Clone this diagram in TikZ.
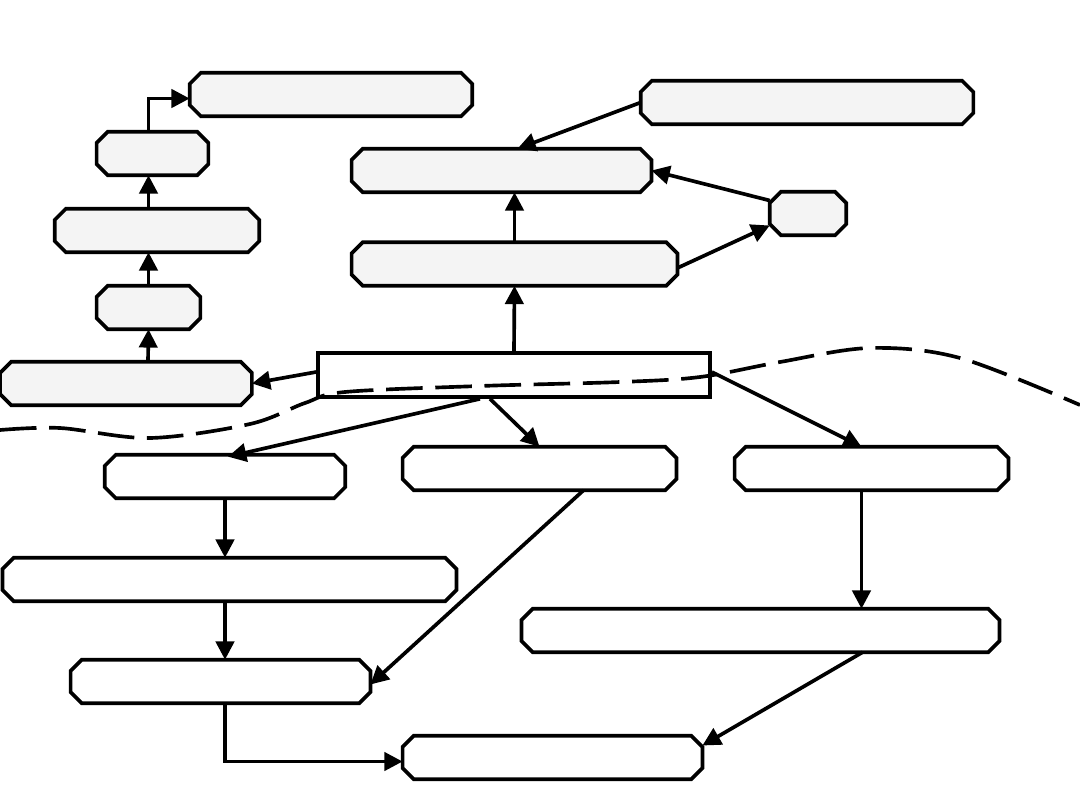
\documentclass[tikz,border=0pt]{standalone}
\usetikzlibrary{arrows.meta,calc}
\definecolor{boxgray}{HTML}{F4F4F4}
\tikzset{
  box/.style={rectangle, inner sep=0pt, minimum height=1.075cm,
    append after command={\pgfextra{
      \draw[line width=2.6pt, fill=#1]
        ($(\tikzlastnode.north west)+(8pt,0)$) -- ($(\tikzlastnode.north east)+(-8pt,0)$)
        -- ($(\tikzlastnode.north east)+(0,-8pt)$) -- ($(\tikzlastnode.south east)+(0,8pt)$)
        -- ($(\tikzlastnode.south east)+(-8pt,0)$) -- ($(\tikzlastnode.south west)+(8pt,0)$)
        -- ($(\tikzlastnode.south west)+(0,8pt)$) -- ($(\tikzlastnode.north west)+(0,-8pt)$)
        -- cycle;}}},
  box/.default=white,
  topbox/.style={box=boxgray},
  hub/.style={rectangle, draw, line width=2.6pt, inner sep=0pt, minimum height=1.1cm, minimum width=9.8cm, fill=white},
  link/.style={line width=2.6pt, -{Triangle[length=13pt,width=13pt]}},
}
\begin{document}
\begin{tikzpicture}[x=0.025cm, y=-0.025cm]
  \useasboundingbox (0,0) rectangle (1080,810);

  % upper left chain
  \node[topbox, minimum width=7.05cm]  (a1) at (331,94.5) {};
  \node[topbox, minimum width=2.78cm]  (a2) at (152.5,153.5) {};
  \node[topbox, minimum width=5.1cm]   (a3) at (157,230.5) {};
  \node[topbox, minimum width=2.58cm]  (a4) at (148.5,307.5) {};
  \node[topbox, minimum width=6.28cm]  (a5) at (126,383.5) {};

  % upper right group
  \node[topbox, minimum width=8.3cm]   (b1) at (807,102.5) {};
  \node[topbox, minimum width=7.48cm]  (b2) at (501.5,170.5) {};
  \node[topbox, minimum width=1.9cm]   (b3) at (808,213.5) {};
  \node[topbox, minimum width=8.13cm]  (b4) at (514.5,264) {};

  % middle
  \node[hub] (hub) at (514,375) {};

  % lower boxes
  \node[box, minimum width=6cm]     (c1) at (225,476.5) {};
  \node[box, minimum width=6.83cm]  (c2) at (539.5,468.5) {};
  \node[box, minimum width=6.83cm]  (c3) at (871.5,468.5) {};
  \node[box, minimum width=11.33cm] (c4) at (229.5,579.5) {};
  \node[box, minimum width=11.93cm] (c5) at (760.5,630.5) {};
  \node[box, minimum width=7.48cm]  (c6) at (220.5,681.5) {};
  \node[box, minimum width=7.48cm]  (c7) at (552.5,757.5) {};

  % arrows, upper part
  \draw[link] ($(a5.north)+(22,0)$) -- (a4.south);
  \draw[link] (a4.north) -- (a4.north |- a3.south);
  \draw[link] (a4.north |- a3.north) -- (a4.north |- a2.south);
  \draw[link] (a4.north |- a2.north) |- ($(a1.west)+(0,4)$);
  \draw[link] ($(hub.west)+(0,-3)$) -- (a5.east);
  \draw[link] (hub.north) -- (b4.south);
  \draw[link] (b4.north) -- (b4.north |- b2.south);
  \draw[link] ($(b4.east)+(0,4)$) -- ($(b3.west)+(0,12)$);
  \draw[link] ($(b3.west)+(0,-13)$) -- (b2.east);
  \draw[link] (b1.west) -- ($(b2.north)+(16,0)$);

  % arrows, lower part
  \draw[link] ($(hub.south)+(-34,0)$) -- ($(c1.north)+(3,2)$);
  \draw[link] ($(hub.south)+(-24,0)$) -- (c2.north);
  \draw[link] ($(hub.east)+(0,-3)$) -- ($(c3.north)+(-10,0)$);
  \draw[link] (c1.south) -- (c1.south |- c4.north);
  \draw[link] (c1.south |- c4.south) -- (c1.south |- c6.north);
  \draw[link] ($(c2.south)+(44,0)$) -- ($(c6.east)+(0,3)$);
  \draw[link] ($(c3.south)+(-10,0)$) -- ($(c3.south |- c5.north)+(-10,0)$);
  \draw[link] ($(c5.south)+(102,0)$) -- ($(c7.east)+(0,-12)$);
  \draw[link] (c1.south |- c6.south) |- ($(c7.west)+(0,4)$);

  % dashed boundary
  \draw[line width=2.6pt, dash pattern=on 26pt off 9pt]
    plot[smooth, tension=0.55] coordinates {(0,430) (60,428) (150,438) (250,424) (305,403) (345,392)
      (480,386) (620,382) (700,377) (780,362) (870,348) (960,358) (1080,405)};
\end{tikzpicture}
\end{document}
